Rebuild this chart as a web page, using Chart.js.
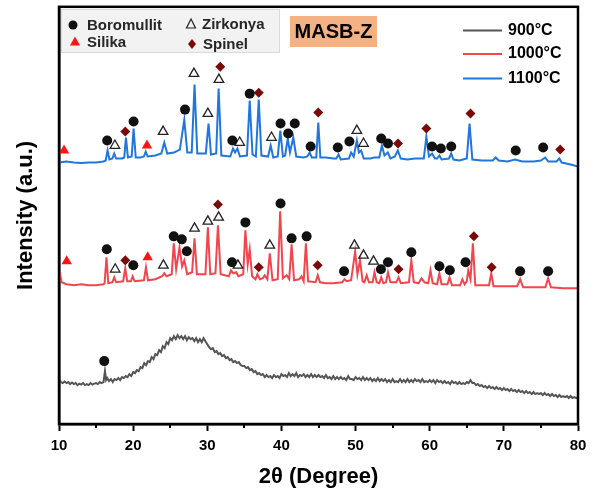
<!DOCTYPE html>
<html>
<head>
<meta charset="utf-8">
<script src="https://cdn.jsdelivr.net/npm/chart.js@4.4.1/dist/chart.umd.min.js"></script>
<style>
  html, body { margin: 0; padding: 0; background: #fff; }
</style>
</head>
<body>
<canvas id="xrd" width="600" height="490"></canvas>
<script>
// XRD patterns of MASB-Z fired at 900 / 1000 / 1100 °C, curves offset vertically.
// Intensity is in arbitrary units (stacked offsets already included).

const xTicks = [10, 20, 30, 40, 50, 60, 70, 80];
const xMinorTicks = [15, 25, 35, 45, 55, 65, 75];

const blue1100 = [
  [10.0,262],[11.0,263],[12.0,262],[13.0,261.5],[14.0,262],[15.0,262],[16.0,263],[16.3,264],[16.55,274],[16.8,265],
  [17.2,266],[17.45,271],[17.7,266],[18.5,266],[18.8,267],[19.03,287],[19.3,267],[19.8,268],[20.06,296],[20.35,267],
  [21.0,267],[21.45,268],[21.7,273],[21.95,268],[23.0,269],[23.8,271],[24.2,282],[24.6,271],[25.5,272],[26.3,275],
  [26.9,305],[27.3,272],[27.9,272],[28.28,340],[28.65,271],[29.8,271],[30.17,301],[30.5,270],[31.2,271],[31.53,336],
  [31.9,269],[33.1,268],[33.47,276],[33.75,272],[34.06,276],[34.4,268],[35.35,269],[35.72,324],[36.1,270],[36.55,268],
  [36.94,325],[37.3,269],[38.2,268],[38.55,279],[38.9,267],[39.5,268],[39.85,294],[40.2,268],[40.5,269],[40.85,286],
  [41.15,272],[41.6,287],[42.0,268],[43.0,267],[43.5,268],[43.8,272],[44.1,267],[44.7,267],[44.97,302],[45.25,267],
  [46.0,267],[47.0,266],[47.4,266],[47.7,270],[48.0,265],[49.1,266],[49.4,272],[49.75,268],[50.17,284],[50.45,272],
  [50.75,274],[51.1,266],[52.0,266],[52.5,267],[53.2,267],[53.55,279],[53.9,269],[54.35,272],[54.7,266],[55.3,268],
  [55.7,274],[56.1,266],[57.0,265],[58.0,266],[59.2,266],[59.55,288],[59.9,268],[60.32,271],[60.7,266],[61.0,266],
  [61.3,269],[61.6,265],[62.6,266],[62.9,271],[63.2,265],[64.0,264],[65.0,266],[65.37,301],[65.75,265],[67.0,264],
  [68.5,264],[68.9,267],[69.3,264],[70.5,263],[71.5,265],[72.5,263],[74.0,263],[75.0,264],[75.57,267],[76.0,263],
  [77.1,263],[77.47,266],[77.8,262],[79.0,260],[80.0,258]
];

const red1000 = [
  [10.0,150],[10.1,152],[10.35,142],[11.0,140],[12.0,139],[13.0,140],[14.0,139],[15.0,139],[16.0,140],[16.15,141],
  [16.4,167],[16.65,141],[17.2,142],[17.45,147],[17.7,142],[18.65,143],[18.94,156],[19.2,143],[19.7,143],[19.93,148],
  [20.2,143],[21.45,144],[21.73,157],[22.0,144],[23.0,145],[23.9,148],[24.2,151],[24.5,148],[25.2,150],[25.48,181],
  [25.8,155],[26.25,177],[26.6,158],[26.9,164],[27.3,150],[27.95,152],[28.28,186],[28.6,150],[29.75,150],[30.08,197],
  [30.4,150],[31.1,151],[31.44,199],[31.8,150],[32.9,148],[33.2,154],[33.5,151],[33.9,152],[34.2,148],[34.85,150],
  [35.14,194],[35.45,160],[35.72,175],[36.05,148],[36.5,145],[36.76,150],[37.1,145],[37.5,146],[37.75,149],[38.1,145],
  [38.43,171],[38.8,144],[39.5,145],[39.83,213],[40.2,146],[40.7,149],[41.05,145],[41.37,180],[41.7,144],[42.4,145],
  [42.7,148],[43.0,143],[43.3,181],[43.6,143],[44.6,142],[44.9,149],[45.2,142],[46.0,141],[47.0,141],[48.2,142],
  [48.5,145],[48.8,143],[49.4,144],[49.94,173],[50.25,150],[50.6,164],[50.95,143],[51.2,142],[51.5,149],[51.8,142],
  [52.3,142],[52.55,152],[52.85,142],[53.2,141],[53.46,147],[53.75,141],[54.1,142],[54.37,152],[54.7,142],[55.5,142],
  [55.8,147],[56.1,141],[57.2,142],[57.52,164],[57.85,142],[58.5,141],[58.9,146],[59.3,142],[59.8,141],[60.1,154],
  [60.4,141],[61.0,140],[61.3,151],[61.6,140],[62.4,140],[62.67,147],[63.0,139],[64.1,139],[64.4,145],[64.7,140],
  [65.0,143],[65.2,154],[65.5,145],[65.82,181],[66.15,139],[67.0,139],[68.0,139],[68.3,151],[68.6,138],[70.0,138],
  [71.8,138],[72.2,145],[72.6,137],[74.0,137],[75.6,137],[75.97,146],[76.35,137],[78.0,136],[80.0,136]
];

const gray900 = [
  [10.0,46],[10.25,42],[10.5,41],[10.75,42.5],[11.0,41],[11.25,42],[11.5,40],[11.75,41.5],[12.0,40],[12.25,41],
  [12.5,39],[12.75,40.5],[13.0,39.5],[13.25,41],[13.5,39],[13.75,40],[14.0,39],[14.25,41],[14.5,39.5],[14.75,40.5],
  [15.0,41],[15.25,40],[15.5,42],[15.75,41],[16.0,42],[16.2,53],[16.35,44],[16.5,46],[16.75,43],[17.0,45],
  [17.25,42],[17.5,45],[17.75,44],[18.0,46],[18.25,44],[18.5,47],[18.75,46],[19.0,48],[19.25,47],[19.5,50],
  [19.75,48],[20.0,52],[20.25,51],[20.5,54],[20.75,53],[21.0,57],[21.25,56],[21.5,61],[21.75,59],[22.0,63],
  [22.25,62],[22.5,67],[22.75,65],[23.0,70],[23.25,69],[23.5,74],[23.75,72],[24.0,78],[24.25,76],[24.5,82],
  [24.75,80],[25.0,86],[25.25,84],[25.5,88],[25.75,85],[26.0,89],[26.25,86],[26.5,88],[26.75,85],[27.0,88],
  [27.25,84],[27.5,87],[27.75,85],[28.0,86],[28.25,83],[28.5,86],[28.75,82],[29.0,85],[29.25,82],[29.5,86],
  [29.75,83],[30.0,80],[30.25,77],[30.5,75],[30.75,76],[31.0,72],[31.25,73],[31.5,70],[31.75,71],[32.0,68],
  [32.25,69],[32.5,66],[32.75,67],[33.0,64],[33.25,65],[33.5,62],[33.75,63],[34.0,61],[34.25,62],[34.5,59],
  [34.75,58],[35.0,58],[35.25,56],[35.5,57],[35.75,54],[36.0,55],[36.25,52],[36.5,53],[36.75,50],[37.0,51],
  [37.25,49],[37.5,50],[37.75,47],[38.0,49],[38.25,47],[38.5,48],[38.75,46],[39.0,49],[39.25,47],[39.5,48],
  [39.75,46],[40.0,50],[40.25,48],[40.5,49],[40.75,47],[41.0,51],[41.25,48],[41.5,50],[41.75,48],[42.0,51],
  [42.25,47],[42.5,49],[42.75,48],[43.0,50],[43.25,47],[43.5,49],[43.75,47],[44.0,50],[44.25,47],[44.5,49],
  [44.75,47],[45.0,49],[45.25,47],[45.5,48],[45.75,46],[46.0,49],[46.25,46],[46.5,47],[46.75,45],[47.0,48],
  [47.25,45],[47.5,47],[47.75,45],[48.0,47],[48.25,45],[48.5,46],[48.75,44],[49.0,48],[49.25,45],[49.5,45],
  [49.75,44],[50.0,47],[50.25,45],[50.5,46],[50.75,44],[51.0,47],[51.25,44],[51.5,46],[51.75,44],[52.0,46],
  [52.25,43],[52.5,45],[52.75,43],[53.0,46],[53.25,43],[53.5,45],[53.75,43],[54.0,45],[54.25,42],[54.5,44],
  [54.75,42],[55.0,45],[55.25,42],[55.5,43],[55.75,42],[56.0,45],[56.25,42],[56.5,44],[56.75,42],[57.0,45],
  [57.25,42],[57.5,44],[57.75,42],[58.0,45],[58.25,43],[58.5,44],[58.75,42],[59.0,45],[59.25,42],[59.5,43],
  [59.75,42],[60.0,44],[60.25,42],[60.5,44],[60.75,41],[61.0,44],[61.25,42],[61.5,43],[61.75,41],[62.0,43],
  [62.25,41],[62.5,42],[62.75,40],[63.0,43],[63.25,41],[63.5,42],[63.75,40],[64.0,42],[64.25,40],[64.5,41],
  [64.75,40],[65.0,42],[65.25,41],[65.5,44],[65.75,41],[66.0,41],[66.25,39],[66.5,40],[66.75,38],[67.0,39],
  [67.25,37],[67.5,38],[67.75,36],[68.0,38],[68.25,36],[68.5,37],[68.75,35],[69.0,37],[69.25,35],[69.5,36],
  [69.75,34],[70.0,36],[70.25,34],[70.5,35],[70.75,33],[71.0,35],[71.25,33],[71.5,34],[71.75,32],[72.0,34],
  [72.25,32],[72.5,33],[72.75,31],[73.0,33],[73.25,31],[73.5,32],[73.75,30],[74.0,32],[74.25,30],[74.5,31],
  [74.75,30],[75.0,31],[75.25,29],[75.5,31],[75.75,29],[76.0,30],[76.25,28],[76.5,30],[76.75,28],[77.0,29],
  [77.25,27],[77.5,29],[77.75,27],[78.0,28],[78.25,27],[78.5,28],[78.75,26],[79.0,28],[79.25,26],[79.5,27],
  [79.75,26],[80.0,27]
];

// phase markers [2theta, height]
const boromullitMarks = [
  [16.5,284],[20.06,303],[27.0,315],[33.38,284],[35.72,331],[39.88,301],[40.91,291],[41.8,301],[43.94,278],
  [47.6,277],[49.17,283],[53.46,286],[54.37,281],[60.32,278],[61.5,276],[62.9,278],[71.6,274],[75.3,277],
  [16.45,175],[20.02,159],[25.48,188],[26.56,185],[27.24,173],[33.33,162],[35.14,202],[39.88,221],[41.37,186],
  [43.4,188],[48.45,153],[53.42,155],[54.37,162],[57.52,172],[61.31,158],[62.71,154],[64.83,162],[72.19,153],
  [75.97,153],
  [16.1,63]
];
const silikaMarks = [[10.68,274],[21.87,279],[11.04,163],[21.96,167]];
const zirkonyaMarks = [
  [17.54,279],[24.04,293],[28.2,351],[30.08,311],[31.57,345],[34.37,282],[38.66,287],[50.17,294],[51.07,281],
  [17.58,155],[24.08,159],[28.28,196],[30.08,203],[31.53,207],[34.14,159],[38.43,179],[49.85,179],[51.07,169],[52.42,163]
];
const spinelMarks = [
  [18.94,293],[31.75,358],[36.94,332],[44.97,312],[55.72,281],[59.55,296],[65.5,311],[77.6,275],
  [18.94,164],[31.44,220],[36.94,157],[44.89,159],[55.8,155],[65.96,188],[68.35,157]
];

const FONT = "'Liberation Sans', Arial, sans-serif";
const C900 = '#555555', C1000 = '#f0464c', C1100 = '#2176dc';
const SPINEL = '#7a0a0a', SILIKA = '#ff1414';

const toXY = pts => pts.map(([x, y]) => ({ x, y }));

const lineSet = (label, pts, color, w) => ({
  type: 'line', label, data: toXY(pts), borderColor: color, borderWidth: w,
  pointRadius: 0, tension: 0, fill: false, order: 2,
});
const markSet = (label, pts, style, fill, stroke, r, bw) => ({
  type: 'scatter', label, data: toXY(pts), pointStyle: style, pointRadius: r,
  backgroundColor: fill, borderColor: stroke, borderWidth: bw, order: 1,
});

function drawMark(ctx, kind, x, y) {
  ctx.beginPath();
  if (kind === 'circle') {
    ctx.arc(x, y, 4.5, 0, Math.PI * 2);
    ctx.fillStyle = '#111'; ctx.fill();
  } else if (kind === 'tri') {
    ctx.moveTo(x, y - 5.5); ctx.lineTo(x + 5, y + 3.5); ctx.lineTo(x - 5, y + 3.5); ctx.closePath();
    ctx.fillStyle = SILIKA; ctx.fill();
  } else if (kind === 'open') {
    ctx.moveTo(x, y - 5); ctx.lineTo(x + 4.5, y + 4); ctx.lineTo(x - 4.5, y + 4); ctx.closePath();
    ctx.strokeStyle = '#222'; ctx.lineWidth = 1.2; ctx.stroke();
  } else {
    ctx.moveTo(x, y - 5); ctx.lineTo(x + 4, y); ctx.lineTo(x, y + 5); ctx.lineTo(x - 4, y); ctx.closePath();
    ctx.fillStyle = SPINEL; ctx.fill();
  }
}

const overlay = {
  id: 'overlay',
  afterDraw(chart) {
    const { ctx, chartArea: a } = chart;
    const xs = chart.scales.x;
    ctx.save();
    // box around plot
    ctx.strokeStyle = '#000';
    ctx.lineWidth = 2.5;
    ctx.strokeRect(a.left, a.top, a.right - a.left, a.bottom - a.top);
    // minor x ticks
    ctx.lineWidth = 2;
    xMinorTicks.forEach(v => {
      const px = Math.round(xs.getPixelForValue(v));
      ctx.beginPath(); ctx.moveTo(px, a.bottom); ctx.lineTo(px, a.bottom + 4); ctx.stroke();
    });

    // phase key
    ctx.fillStyle = '#f2f2f2';
    ctx.fillRect(a.left + 2, 9, 219, 44);
    ctx.strokeStyle = '#dadada'; ctx.lineWidth = 1;
    ctx.strokeRect(a.left + 2.5, 9.5, 218, 43);
    ctx.font = 'bold 15px ' + FONT;
    ctx.textBaseline = 'middle';
    ctx.textAlign = 'left';
    [['circle', 73, 25, 'Boromullit', 87], ['tri', 75, 42, 'Silika', 87],
     ['open', 191, 24, 'Zirkonya', 202], ['diamond', 192, 44, 'Spinel', 203]].forEach(([k, mx, my, txt, tx]) => {
      drawMark(ctx, k, mx, my);
      ctx.fillStyle = '#262626';
      ctx.fillText(txt, tx, my + 1);
    });

    // sample tag
    ctx.fillStyle = '#f4b183';
    ctx.fillRect(290, 16, 87, 31);
    ctx.fillStyle = '#000';
    ctx.font = 'bold 20px ' + FONT;
    ctx.textAlign = 'center';
    ctx.fillText('MASB-Z', 333.5, 32);

    // series key
    ctx.font = 'bold 16px ' + FONT;
    ctx.textAlign = 'left';
    [['900°C', C900, 30.5], ['1000°C', C1000, 54], ['1100°C', C1100, 78.5]].forEach(([txt, col, y]) => {
      ctx.strokeStyle = col; ctx.lineWidth = 2;
      ctx.beginPath(); ctx.moveTo(463, y); ctx.lineTo(502, y); ctx.stroke();
      ctx.fillStyle = '#000';
      ctx.fillText(txt, 508, y);
    });
    ctx.restore();
  }
};

new Chart(document.getElementById('xrd'), {
  type: 'line',
  data: {
    datasets: [
      markSet('Boromullit', boromullitMarks, 'circle', '#111', '#111', 5, 0),
      markSet('Silika', silikaMarks, 'triangle', SILIKA, SILIKA, 6, 0),
      markSet('Zirkonya', zirkonyaMarks, 'triangle', 'rgba(255,255,255,0)', '#222', 5.5, 1.3),
      markSet('Spinel', spinelMarks, 'rectRot', SPINEL, SPINEL, 5, 0),
      lineSet('1100°C', blue1100, C1100, 2),
      lineSet('1000°C', red1000, C1000, 2),
      lineSet('900°C', gray900, C900, 2),
    ],
  },
  options: {
    responsive: false,
    animation: false,
    events: [],
    layout: { padding: { top: 6, right: 22, left: 0, bottom: 0 } },
    plugins: { legend: { display: false }, tooltip: { enabled: false } },
    scales: {
      x: {
        type: 'linear', min: 10, max: 80,
        afterFit: s => { s.height = 66; },
        afterBuildTicks: s => { s.ticks = xTicks.map(v => ({ value: v })); },
        ticks: { color: '#000', padding: 6, font: { family: FONT, size: 15, weight: 'bold' }, maxRotation: 0 },
        grid: { drawOnChartArea: false, drawTicks: true, tickLength: 7, tickColor: '#000', tickWidth: 2 },
        border: { display: true, color: '#000', width: 2.5 },
        title: { display: true, text: '2θ (Degree)', color: '#000', padding: { top: 0, bottom: 0 },
                 font: { family: FONT, size: 22, weight: 'bold' } },
      },
      y: {
        min: 0, max: 418,
        afterFit: s => { s.width = 59; },
        ticks: { display: false },
        grid: { display: false },
        border: { display: true, color: '#000', width: 2.5 },
        title: { display: true, text: 'Intensity (a.u.)', color: '#000', padding: { top: 13, bottom: 0 },
                 font: { family: FONT, size: 22, weight: 'bold' } },
      },
    },
  },
  plugins: [overlay],
});
</script>
</body>
</html>
